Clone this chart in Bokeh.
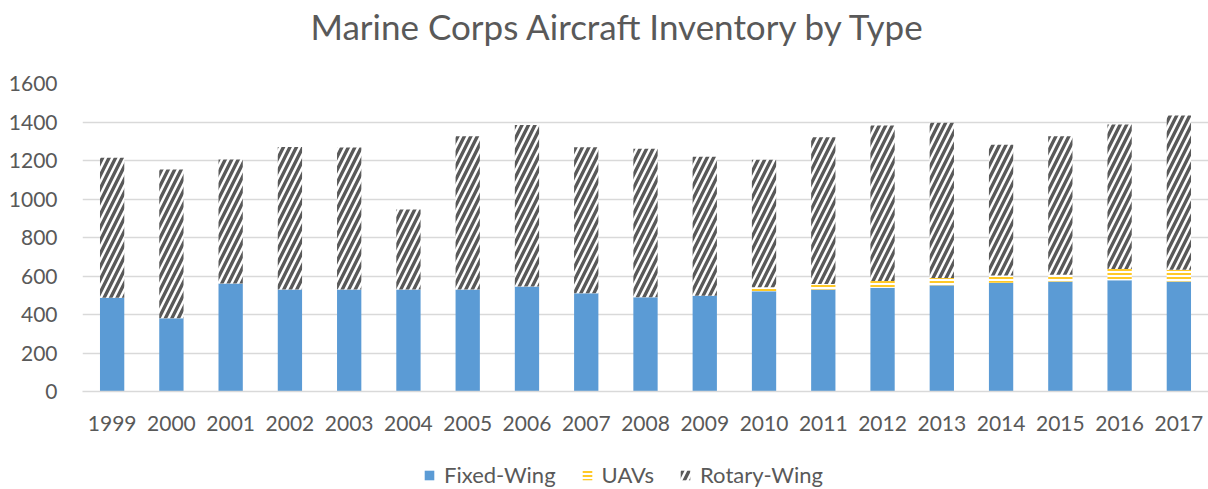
from bokeh.plotting import figure
from bokeh.layouts import column
from bokeh.models import ColumnDataSource, FactorRange, Range1d, Legend, LegendItem, Label
from bokeh.embed import file_html
from bokeh.resources import INLINE

years = ["1999", "2000", "2001", "2002", "2003", "2004", "2005", "2006", "2007", "2008",
         "2009", "2010", "2011", "2012", "2013", "2014", "2015", "2016", "2017"]
fixed_wing = [487, 381, 561, 530, 530, 530, 530, 545, 510, 490,
              497, 521, 530, 539, 552, 565, 571, 578, 571]
uavs = [0, 0, 0, 0, 0, 0, 0, 0, 0, 0,
        0, 20, 28, 35, 38, 38, 35, 58, 62]
rotary_wing = [727, 772, 644, 740, 738, 415, 796, 840, 759, 771,
               722, 663, 763, 808, 806, 679, 720, 751, 801]
series = ["Fixed-Wing", "UAVs", "Rotary-Wing"]
title_text = "Marine Corps Aircraft Inventory by Type"

FONT = "Lato"
TXT = "#595959"
FILLS = ["#5B9BD5", "white", "white"]
HATCH = ["blank", "horizontal_line", "right_diagonal_line"]
HCOL = ["#5B9BD5", "#FFC000", "#595959"]
HW = [1, 1.7, 3.4]
HS = [12, 4, 13]

src = ColumnDataSource(dict(year=years, fw=fixed_wing, uav=uavs, rw=rotary_wing))

# title strip
tf = figure(width=1208, height=55, output_backend="svg", toolbar_location=None,
            min_border=0, x_range=Range1d(0, 1), y_range=Range1d(0, 1))
tf.axis.visible = False
tf.grid.visible = False
tf.outline_line_color = None
tf.add_layout(Label(x=536, y=30, x_units="screen", y_units="screen", text=title_text,
                    text_align="center", text_baseline="middle", text_font=FONT,
                    text_font_size="35px", text_color=TXT))

p = figure(x_range=FactorRange(*years), y_range=Range1d(0, 1600),
           width=1208, height=386, output_backend="svg", toolbar_location=None,
           min_border_left=82, min_border_right=0, min_border_top=28, min_border_bottom=50)

rs = p.vbar_stack(["fw", "uav", "rw"], x="year", width=0.41, source=src,
                  fill_color=FILLS, line_color=None, hatch_pattern=HATCH,
                  hatch_color=HCOL, hatch_weight=HW, hatch_scale=HS)

p.outline_line_color = None
p.xgrid.grid_line_color = None
p.ygrid.grid_line_color = "#d9d9d9"
p.ygrid.grid_line_width = 1.3

p.yaxis.axis_line_color = None
p.yaxis.major_tick_line_color = None
p.yaxis.minor_tick_line_color = None
p.yaxis.major_label_text_font = FONT
p.yaxis.major_label_text_font_size = "21px"
p.yaxis.major_label_text_color = TXT
p.yaxis.major_label_standoff = 19
p.yaxis.ticker.desired_num_ticks = 9

p.xaxis.axis_line_color = "#d9d9d9"
p.xaxis.axis_line_width = 1.5
p.xaxis.major_tick_line_color = None
p.xaxis.minor_tick_line_color = None
p.xaxis.major_label_text_font = FONT
p.xaxis.major_label_text_font_size = "21px"
p.xaxis.major_label_text_color = TXT
p.xaxis.major_label_standoff = 18

# legend strip below the chart (hidden copies of the series provide the legend swatches)
lf = figure(width=1208, height=48, output_backend="svg", toolbar_location=None,
            min_border=0, x_range=p.x_range, y_range=Range1d(0, 1600))
lf.axis.visible = False
lf.grid.visible = False
lf.outline_line_color = None
items = []
for i, (name, col) in enumerate(zip(series, ["fw", "uav", "rw"])):
    r = lf.vbar(x="year", top=col, width=0.41, source=src, fill_color=FILLS[i], line_color=None,
                hatch_pattern=HATCH[i], hatch_color=HCOL[i],
                hatch_weight=HW[i], hatch_scale=HS[i], visible=False)
    items.append(LegendItem(label=name, renderers=[r]))

legend = Legend(items=items, orientation="horizontal", location=(341, 1),
                border_line_color=None, background_fill_alpha=0,
                label_text_font=FONT, label_text_font_size="22px", label_text_color=TXT,
                glyph_width=12, glyph_height=12, spacing=25, label_standoff=9,
                padding=0, margin=0)
lf.add_layout(legend, "center")

layout = column(tf, p, lf, spacing=0)
open("out.html", "w").write(file_html(layout, INLINE))
